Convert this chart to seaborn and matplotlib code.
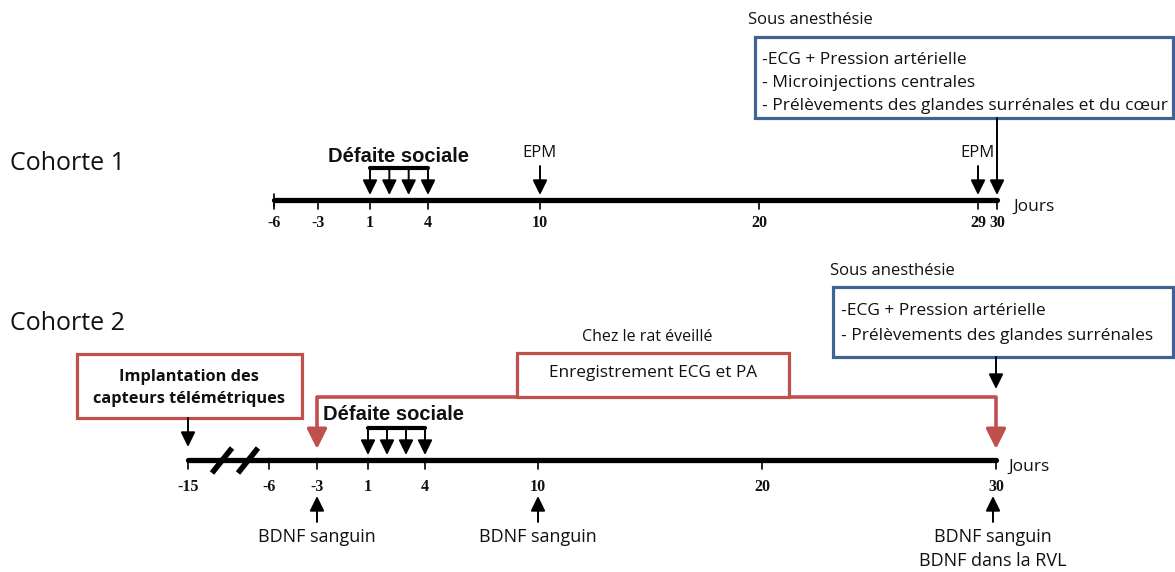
import numpy as np
import pandas as pd
import seaborn as sns
import matplotlib.pyplot as plt
from matplotlib.patches import Rectangle

sns.set_theme(style="white")
plt.rcParams['font.family'] = ['Open Sans', 'DejaVu Sans']
plt.rcParams['text.color'] = '#111111'

# ---- data ----
c1_ticks = [-6, -3, 1, 4, 10, 20, 29, 30]
c1_defaite = [1, 2, 3, 4]
c1_epm = [10, 29]
c1_anesth_day = 30
c1_box_lines = ["-ECG + Pression artérielle",
                "- Microinjections centrales",
                "- Prélèvements des glandes surrénales et du cœur"]

c2_ticks = [-15, -6, -3, 1, 4, 10, 20, 30]
c2_defaite = [1, 2, 3, 4]
c2_bdnf = [-3, 10, 30]
c2_bdnf_labels = ["BDNF sanguin", "BDNF sanguin", "BDNF sanguin\nBDNF dans la RVL"]
c2_implant_day = -15
c2_record = [-3, 30]
c2_anesth_day = 30
c2_box_lines = ["-ECG + Pression artérielle",
                "- Prélèvements des glandes surrénales"]

# ---- layout: day -> pixel scales (drawing is not to scale) ----
c1_scale_days = [-6, -3, 1, 4, 10, 20, 29, 30]
c1_scale_px = [274, 318, 370, 428, 540, 759, 978, 997]
c2_scale_days = [-15, -6, -3, 1, 4, 10, 20, 30]
c2_scale_px = [188, 269, 317, 368, 425, 538, 762, 996]


def x1(d):
    return np.interp(d, c1_scale_days, c1_scale_px)


def x2(d):
    return np.interp(d, c2_scale_days, c2_scale_px)


RED = "#C0504D"
BLUE = "#3F6397"
BOXFS = 12.5
TICKFS = 11.5

fig = plt.figure(figsize=(11.75, 5.72), dpi=100)
ax = fig.add_axes([0, 0, 1, 1])
ax.set_xlim(0, 1175)
ax.set_ylim(572, 0)
ax.axis("off")


def arrow(x, y0, y1, color="black", lw=1.4, hl=0.45, hw=0.22):
    ax.annotate("", xy=(x, y1), xytext=(x, y0),
                arrowprops=dict(arrowstyle=f"-|>,head_length={hl},head_width={hw}",
                                color=color, lw=lw, shrinkA=0, shrinkB=0,
                                mutation_scale=20))


def box(x0, y0, x1_, y1_, color, lw=2.3):
    ax.add_patch(Rectangle((x0, y0), x1_ - x0, y1_ - y0, fill=True,
                           facecolor="white", edgecolor=color, lw=lw, zorder=3))


# ================= Cohorte 1 =================
Y1 = 200
tl1 = pd.DataFrame({"x": x1([min(c1_ticks), max(c1_ticks)]), "y": [Y1, Y1]})
sns.lineplot(data=tl1, x="x", y="y", color="black", lw=3.8, ax=ax,
             estimator=None, sort=False, legend=False)
for d in c1_ticks:
    ax.plot([x1(d)] * 2, [Y1, Y1 + 9], color="black", lw=1.2)
    ax.text(x1(d), Y1 + 23, str(d), ha="center", va="center",
            family="Liberation Serif", weight="bold", fontsize=TICKFS)
ax.plot([x1(-6)] * 2, [Y1 - 6, Y1 + 6], color="black", lw=1.2)
ax.text(1013, Y1 + 7, "Jours", ha="left", va="center", fontsize=12.5)
ax.text(10, 163, "Cohorte 1", ha="left", va="center", fontsize=18)

# défaite sociale
ax.plot(x1([c1_defaite[0], c1_defaite[-1]]), [168, 168], color="black", lw=3)
for d in c1_defaite:
    arrow(x1(d), 168, 195)
ax.text(x1(2.5), 156, "Défaite sociale", ha="center", va="center",
        family="Liberation Sans", weight="bold", fontsize=14.5)

# EPM
for d in c1_epm:
    arrow(x1(d), 166, 195)
    ax.text(x1(d), 153, "EPM", ha="center", va="center", fontsize=12)

# anesthesia box
box(755, 37, 1173, 118, BLUE)
for i, line in enumerate(c1_box_lines):
    ax.text(762, 60 + 23 * i, line, ha="left", va="center", fontsize=BOXFS, zorder=4)
ax.text(748, 20, "Sous anesthésie", ha="left", va="center", fontsize=12)
arrow(x1(c1_anesth_day), 118, 195)

# ================= Cohorte 2 =================
Y2 = 460
tl2 = pd.DataFrame({"x": x2([min(c2_ticks), max(c2_ticks)]), "y": [Y2, Y2]})
sns.lineplot(data=tl2, x="x", y="y", color="black", lw=3.8, ax=ax,
             estimator=None, sort=False, legend=False)
for d in c2_ticks:
    ax.plot([x2(d)] * 2, [Y2, Y2 + 9], color="black", lw=1.2)
    ax.text(x2(d), Y2 + 27, str(d), ha="center", va="center",
            family="Liberation Serif", weight="bold", fontsize=TICKFS)
# axis break
for cx in (222, 248):
    ax.plot([cx - 10, cx + 10], [Y2 + 13, Y2 - 12], color="black", lw=4,
            solid_capstyle="butt")
ax.text(1008, Y2 + 7, "Jours", ha="left", va="center", fontsize=12.5)
ax.text(10, 323, "Cohorte 2", ha="left", va="center", fontsize=18)

# implantation
box(77, 354, 302, 418, RED)
ax.text(189, 388, "Implantation des\ncapteurs télémétriques", ha="center",
        va="center", fontsize=11.8, weight="bold", linespacing=1.45, zorder=4)
arrow(x2(c2_implant_day), 418, 447)

# recording path (red)
rec = pd.DataFrame({"x": x2([c2_record[0], c2_record[0], c2_record[1], c2_record[1]]),
                    "y": [434, 397, 397, 434]})
sns.lineplot(data=rec, x="x", y="y", color=RED, lw=2.6, ax=ax,
             estimator=None, sort=False, legend=False)
for d in c2_record:
    arrow(x2(d), 430, 449, color=RED, lw=2.6, hl=0.6, hw=0.3)
box(517, 353, 789, 397, RED)
ax.text(653, 373, "Enregistrement ECG et PA", ha="center", va="center",
        fontsize=12.4, zorder=4)
ax.text(647, 337, "Chez le rat éveillé", ha="center", va="center", fontsize=11.5)

# défaite sociale
ax.plot(x2([c2_defaite[0], c2_defaite[-1]]), [428, 428], color="black", lw=3)
for d in c2_defaite:
    arrow(x2(d), 428, 455)
ax.text(x2(1) - 45, 415, "Défaite sociale", ha="left", va="center",
        family="Liberation Sans", weight="bold", fontsize=14.5)

# anesthesia box
box(833, 287, 1173, 357, BLUE)
for i, line in enumerate(c2_box_lines):
    ax.text(841, 311 + 25 * i, line, ha="left", va="center", fontsize=BOXFS, zorder=4)
ax.text(830, 271, "Sous anesthésie", ha="left", va="center", fontsize=12)
arrow(x2(c2_anesth_day), 357, 389)

# BDNF
for d, lab in zip(c2_bdnf, c2_bdnf_labels):
    arrow(x2(d) - (3 if d == 30 else 0), 522, 496)
    ax.text(x2(d) - (3 if d == 30 else 0), 528, lab, ha="center", va="top",
            fontsize=13, linespacing=1.4)

fig.savefig("out.png", dpi=100)
